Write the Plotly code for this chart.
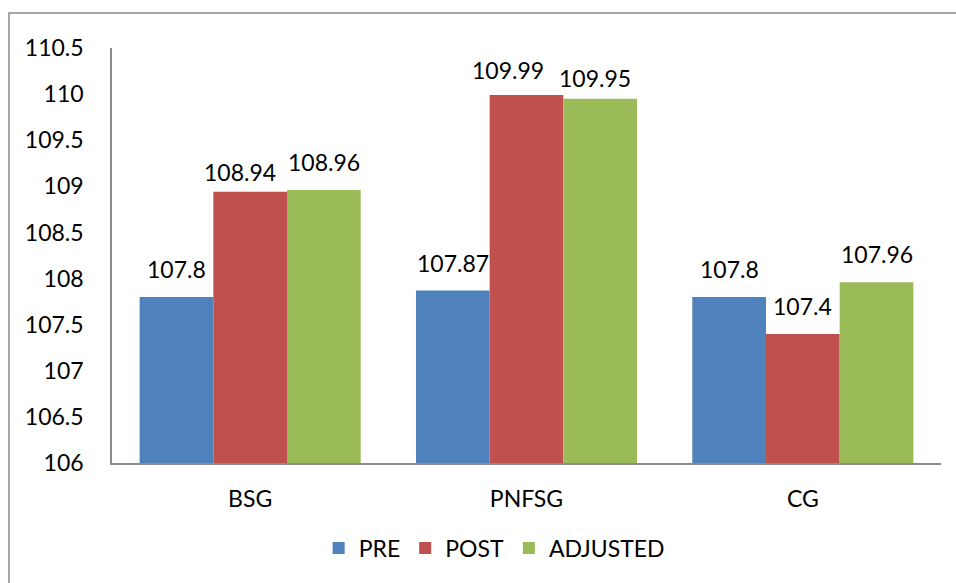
import plotly.graph_objects as go

# Group means per condition
groups = ["BSG", "PNFSG", "CG"]
pre = [107.8, 107.87, 107.8]
post = [108.94, 109.99, 107.4]
adjusted = [108.96, 109.95, 107.96]

series = [
    ("PRE", pre, "#4F81BD"),
    ("POST", post, "#C0504D"),
    ("ADJUSTED", adjusted, "#9BBB59"),
]

FONT = "Lato"
WIDTH, HEIGHT = 956, 583
MARGIN = dict(l=112, r=15, t=48, b=120)
BARGAP = 0.2

# Small label nudges (px) where neighbouring labels would crowd each other
label_nudge = {
    ("POST", "BSG"): (-10, -8),
    ("POST", "PNFSG"): (-19, -3),
    ("ADJUSTED", "PNFSG"): (-5, -7),
}

fig = go.Figure()
for name, vals, color in series:
    fig.add_trace(go.Bar(
        name=name,
        x=groups,
        y=vals,
        base=0,
        marker=dict(color=color, line=dict(width=0)),
        hovertemplate="%{x}: %{y}<extra>" + name + "</extra>",
    ))

# Value labels above each bar
plot_w = WIDTH - MARGIN["l"] - MARGIN["r"]
cat_w = plot_w / len(groups)
bar_w = cat_w * (1 - BARGAP) / len(series)
for si, (name, vals, _) in enumerate(series):
    offset = (si - (len(series) - 1) / 2) * bar_w
    for g, v in zip(groups, vals):
        dx, dy = label_nudge.get((name, g), (0, 0))
        fig.add_annotation(
            x=g, y=v, xref="x", yref="y",
            text=f"{v:g}",
            showarrow=False,
            xanchor="center", yanchor="bottom",
            xshift=offset + dx, yshift=12 + dy,
            font=dict(family=FONT, size=23, color="#000000"),
        )

fig.update_layout(
    width=WIDTH,
    height=HEIGHT,
    barmode="group",
    bargap=BARGAP,
    bargroupgap=0,
    paper_bgcolor="#ffffff",
    plot_bgcolor="#ffffff",
    margin=MARGIN,
    font=dict(family=FONT, size=23, color="#000000"),
    showlegend=True,
    legend=dict(
        orientation="h",
        x=0.461,
        xanchor="center",
        y=-0.205,
        yanchor="middle",
        font=dict(family=FONT, size=23),
        itemwidth=30,
        tracegroupgap=0,
    ),
)

fig.update_yaxes(
    range=[106, 110.5],
    tickmode="array",
    tickvals=[106 + 0.5 * i for i in range(10)],
    ticktext=[f"{106 + 0.5 * i:g}" for i in range(10)],
    showgrid=False,
    zeroline=False,
    showline=True,
    linecolor="#8c8c8c",
    linewidth=1.5,
    ticks="",
    ticklabelstandoff=22,
)
fig.update_xaxes(
    showgrid=False,
    showline=True,
    linecolor="#8c8c8c",
    linewidth=1.5,
    ticks="",
    ticklabelstandoff=15,
)

# Outer chart frame (extends past the right and bottom edges)
plot_h = HEIGHT - MARGIN["t"] - MARGIN["b"]
fig.add_shape(
    type="rect",
    xref="paper", yref="paper",
    x0=(9 - MARGIN["l"]) / plot_w, x1=(970 - MARGIN["l"]) / plot_w,
    y0=(HEIGHT - MARGIN["b"] - 600) / plot_h, y1=(HEIGHT - MARGIN["b"] - 13) / plot_h,
    line=dict(color="#8c8c8c", width=1.5),
    fillcolor="rgba(0,0,0,0)",
    layer="below",
)

fig.write_html("out.html")
